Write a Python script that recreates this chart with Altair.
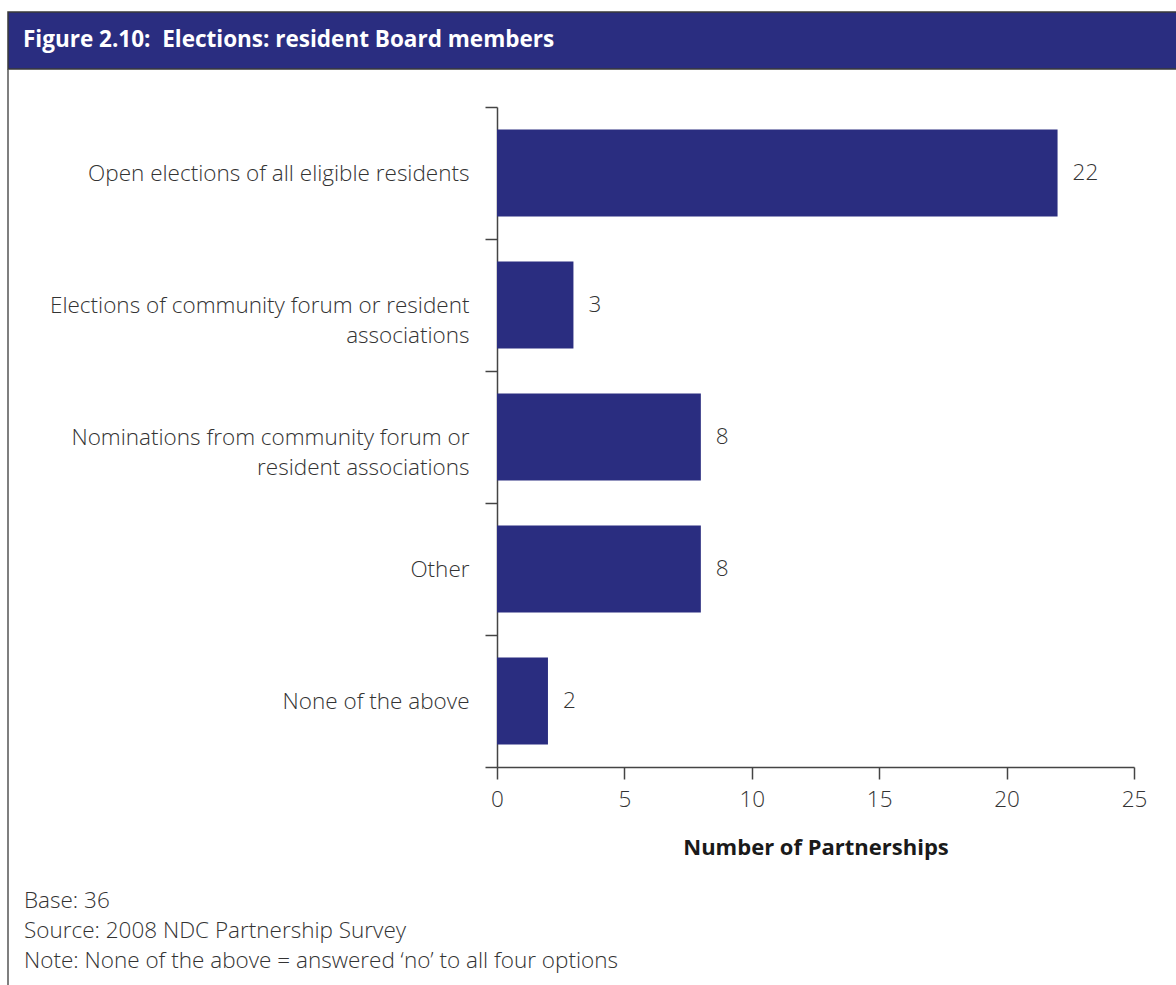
import altair as alt
import pandas as pd

# Survey responses: how resident Board members are chosen
options = [
    "Open elections of all eligible residents",
    "Elections of community forum or resident|associations",
    "Nominations from community forum or|resident associations",
    "Other",
    "None of the above",
]
partnerships = [22, 3, 8, 8, 2]
x_ticks = [0, 5, 10, 15, 20, 25]

title_text = "Figure 2.10:\u00a0 Elections: resident Board members"
footer_lines = [
    "Base: 36",
    "Source: 2008 NDC Partnership Survey",
    "Note: None of the above = answered \u2018no\u2019 to all four options",
]

NAVY = "#2a2d80"
INK = "#333333"
FONT = "Open Sans"
LIGHT = 300
TEXT_SIZE = 22.5

df = pd.DataFrame({"option": options, "partnerships": partnerships})

PLOT_W, PLOT_H = 637, 660
PAD_L, PAD_T = 497, 107

y_enc = alt.Y(
    "option:N",
    sort=options,
    title=None,
    scale=alt.Scale(paddingInner=0, paddingOuter=0),
    axis=alt.Axis(
        tickBand="extent",
        labelExpr="split(datum.label, '|')",
        labelFont=FONT,
        labelFontSize=TEXT_SIZE,
        labelFontWeight=LIGHT,
        labelColor=INK,
        labelPadding=16,
        labelLineHeight=30,
        labelLimit=500,
        tickSize=12,
        tickColor="#444444",
        tickWidth=1.5,
        domainColor="#444444",
        domainWidth=1.5,
    ),
)

x_enc = alt.X(
    "partnerships:Q",
    scale=alt.Scale(domain=[0, 25], nice=False),
    axis=alt.Axis(
        values=x_ticks,
        grid=False,
        title="Number of Partnerships",
        titleFont=FONT,
        titleFontSize=22,
        titleFontWeight="bold",
        titleColor="#1a1a1a",
        titlePadding=27,
        labelFont=FONT,
        labelFontSize=TEXT_SIZE,
        labelFontWeight=LIGHT,
        labelColor=INK,
        labelPadding=9,
        labelFlush=False,
        tickSize=12,
        tickColor="#444444",
        tickWidth=1.5,
        domainColor="#444444",
        domainWidth=1.5,
    ),
)

bars = alt.Chart(df).mark_bar(color=NAVY, height={"band": 0.66}).encode(x=x_enc, y=y_enc)

values = alt.Chart(df).mark_text(
    align="left", baseline="middle", dx=15, font=FONT, fontSize=TEXT_SIZE,
    fontWeight=LIGHT, color=INK,
).encode(
    x=alt.X("partnerships:Q"),
    y=alt.Y("option:N", sort=options),
    text="partnerships:Q",
)

one_row = pd.DataFrame({"k": [0]})

# Header band across the top
header = alt.Chart(one_row).mark_rect(
    color=NAVY, stroke="#3a3a3a", strokeWidth=1.5
).encode(
    x=alt.value(8 - PAD_L),
    x2=alt.value(1180 - PAD_L),
    y=alt.value(12 - PAD_T),
    y2=alt.value(69 - PAD_T),
)

header_text = alt.Chart(one_row).mark_text(
    align="left", baseline="middle", font=FONT, fontSize=22.5,
    fontWeight="bold", color="white",
).encode(
    x=alt.value(23 - PAD_L),
    y=alt.value(40 - PAD_T),
    text=alt.value(title_text),
)

# Left frame line
frame = alt.Chart(one_row).mark_rule(color="#555555", strokeWidth=1.5).encode(
    x=alt.value(8 - PAD_L),
    y=alt.value(69 - PAD_T),
    y2=alt.value(990 - PAD_T),
)

footer = alt.Chart(one_row).mark_text(
    align="left", baseline="middle", font=FONT, fontSize=TEXT_SIZE,
    fontWeight=LIGHT, color=INK, lineHeight=30,
).encode(
    x=alt.value(24 - PAD_L),
    y=alt.value(901 - PAD_T),
    text=alt.value(footer_lines),
)

chart = alt.layer(header, header_text, frame, bars, values, footer).properties(
    width=PLOT_W,
    height=PLOT_H,
    padding={"left": PAD_L, "top": PAD_T, "right": 1176 - PAD_L - PLOT_W, "bottom": 985 - PAD_T - PLOT_H},
    autosize=alt.AutoSizeParams(type="none"),
    background="white",
).configure_view(stroke=None)

chart.save("out.html", embed_options={"renderer": "svg", "actions": False})
